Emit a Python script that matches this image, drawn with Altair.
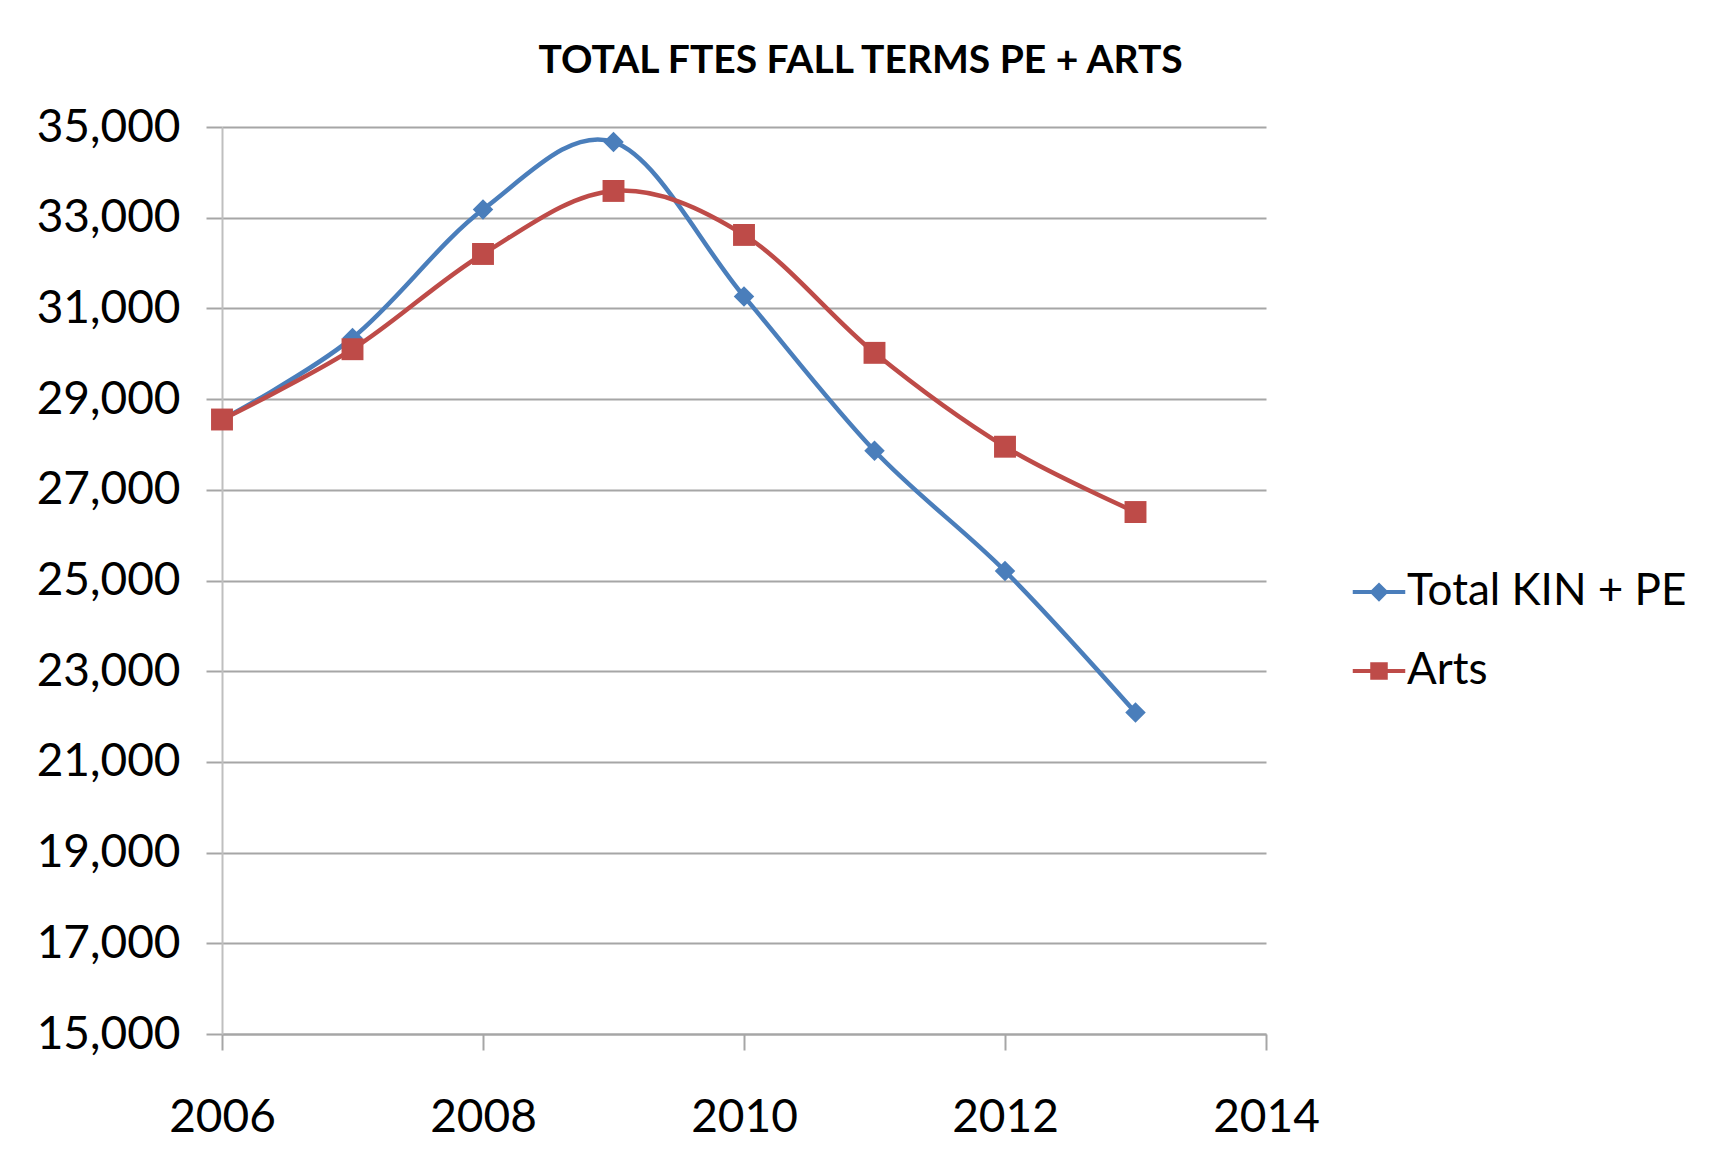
import altair as alt
import pandas as pd

years = [2006, 2007, 2008, 2009, 2010, 2011, 2012, 2013]
kin_pe = [28550, 30350, 33180, 34670, 31265, 27860, 25210, 22090]
arts = [28550, 30100, 32200, 33590, 32620, 30020, 27950, 26510]
series_names = ["Total KIN + PE", "Arts"]
series_colors = ["#4A7EBB", "#BE4B48"]
y_ticks = list(range(15000, 35001, 2000))
x_ticks = [2006, 2008, 2010, 2012, 2014]

df = pd.DataFrame({
    "year": years * 2,
    "value": kin_pe + arts,
    "series": [series_names[0]] * len(years) + [series_names[1]] * len(years),
})

# legend symbols: a short line with the marker in its middle (all filled)
bar = "M-1.5,-0.12H1.5V0.12H-1.5Z"
diamond_sym = bar + "M0,-0.55L0.55,0L0,0.55L-0.55,0Z"
square_sym = bar + "M-0.5,-0.5H0.5V0.5H-0.5Z"

FS = 46
x = alt.X("year:Q", scale=alt.Scale(domain=[2006, 2014], nice=False),
          axis=alt.Axis(values=x_ticks, format="d", title=None, grid=False,
                        labelFont="Lato", labelFontSize=FS, labelColor="black", labelFlush=False,
                        tickSize=16, tickColor="#A6A6A6", tickWidth=2,
                        domainColor="#A6A6A6", domainWidth=2, labelPadding=45))
y = alt.Y("value:Q", scale=alt.Scale(domain=[15000, 35000], nice=False),
          axis=alt.Axis(values=y_ticks, format=",d", title=None, grid=True,
                        gridColor="#A6A6A6", gridWidth=2,
                        labelFont="Lato", labelFontSize=FS, labelColor="black",
                        tickSize=16, tickColor="#A6A6A6", tickWidth=2,
                        domainColor="#BFBFBF", domainWidth=2, labelPadding=26))

base = alt.Chart(df)
marker_shapes = ["diamond", "square"]
marker_sizes = [420, 480]

layers = []
legend = alt.Legend(
    title=None, orient="none", legendX=1135, legendY=443,
    labelFont="Lato", labelFontSize=44, labelColor="black", labelLimit=0,
    symbolSize=1225, symbolStrokeWidth=0, symbolOpacity=1,
    rowPadding=35, labelOffset=6,
)
legend_layer = base.mark_point(filled=True, opacity=0).encode(
    x=x, y=y,
    color=alt.Color("series:N", scale=alt.Scale(domain=series_names, range=series_colors), legend=legend),
    shape=alt.Shape("series:N", scale=alt.Scale(domain=series_names, range=[diamond_sym, square_sym]), legend=legend),
)
layers.append(legend_layer)

for name, col in zip(series_names, series_colors):
    sub = base.transform_filter(alt.datum.series == name)
    layers.append(sub.mark_line(interpolate="cardinal", strokeWidth=4.5, color=col).encode(x=x, y=y))
for name, col, shp, sz in zip(series_names, series_colors, marker_shapes, marker_sizes):
    sub = base.transform_filter(alt.datum.series == name)
    layers.append(sub.mark_point(filled=True, opacity=1, shape=shp, size=sz, color=col).encode(x=x, y=y))

chart = alt.layer(*layers).properties(
    width=1044, height=907,
    title=alt.TitleParams("TOTAL FTES FALL TERMS PE + ARTS", font="Lato", fontSize=39,
                          fontWeight="bold", color="black", anchor="middle", frame="bounds",
                          offset=23, dx=-1),
    padding={"left": 28, "top": 34, "right": 10, "bottom": 10},
).configure(background="white").configure_view(stroke=None)

chart.save("out.html", embed_options={"renderer": "svg", "actions": False})
